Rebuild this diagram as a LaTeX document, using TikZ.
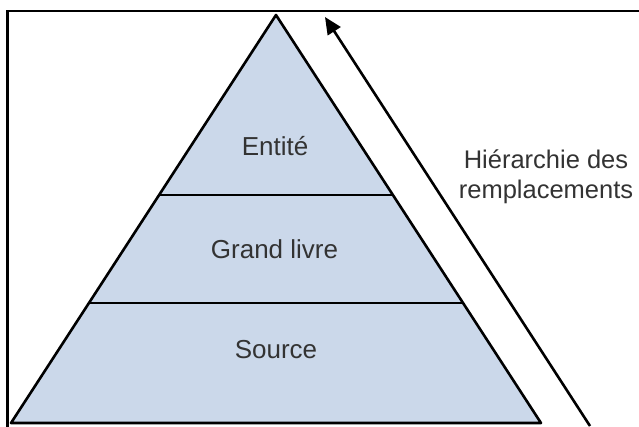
\documentclass[tikz,border=0pt]{standalone}
\usepackage{fontspec}
\setmainfont{Liberation Sans}
\usetikzlibrary{arrows.meta,calc}
\definecolor{layerfill}{HTML}{CBD8EA}
\definecolor{labelgray}{HTML}{333333}
\tikzset{
  edge/.style={line width=2.6pt, black},
  layerlabel/.style={text=labelgray, font=\fontsize{26}{29}\selectfont, inner sep=0pt},
  sidelabel/.style={text=labelgray, font=\fontsize{25.5}{29.5}\selectfont, align=center, inner sep=0pt},
  climb/.style={line width=2.6pt, -{Triangle[length=17pt,width=15pt]}}
}
\begin{document}
\begin{tikzpicture}[x=1pt, y=-1pt]
  \useasboundingbox (0,0) rectangle (639,426);
  \fill[white] (0,0) rectangle (639,426);
  % outer frame (left and top edges)
  \draw[line width=2.6pt] (7.5,430) -- (7.5,11) -- (645,11);
  % pyramid corners
  \coordinate (apex) at (276,15);
  \coordinate (bl) at (11,423);
  \coordinate (br) at (541,423);
  \fill[layerfill] (apex) -- (bl) -- (br) -- cycle;
  % layer separators
  \coordinate (s1l) at ($(apex)!0.441!(bl)$);
  \coordinate (s1r) at ($(apex)!0.441!(br)$);
  \coordinate (s2l) at ($(apex)!0.706!(bl)$);
  \coordinate (s2r) at ($(apex)!0.706!(br)$);
  \draw[edge] (s1l) -- (s1r);
  \draw[edge] (s2l) -- (s2r);
  \draw[edge, line join=round] (apex) -- (bl) -- (br) -- cycle;
  % layer labels
  \node[layerlabel] (entite) at (275,146) {Entité};
  \node[layerlabel] (grandlivre) at (274.5,249) {Grand livre};
  \node[layerlabel] (source) at (276,350) {Source};
  % replacement hierarchy arrow
  \coordinate (foot) at (590,426);
  \coordinate (tip) at (325,17);
  \draw[climb] (foot) -- (tip);
  \node[sidelabel] (hier) at (546,177) {Hiérarchie des\\remplacements};
\end{tikzpicture}
\end{document}
